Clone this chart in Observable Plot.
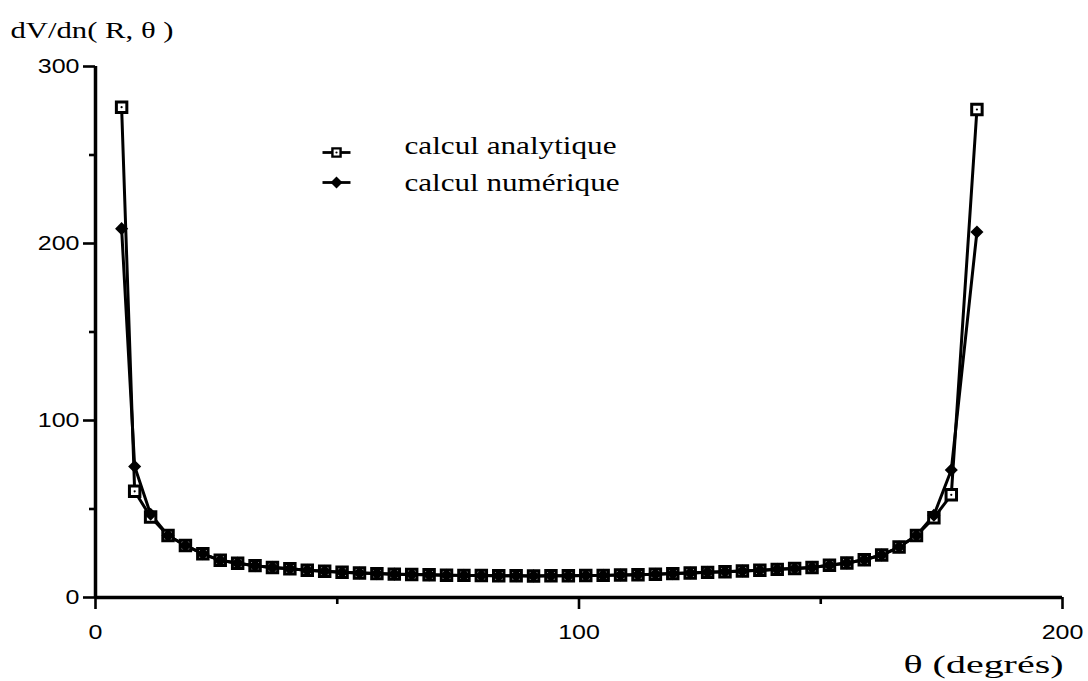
<!DOCTYPE html>
<html>
<head>
<meta charset="utf-8">
<script src="https://cdn.jsdelivr.net/npm/d3@7"></script>
<script src="https://cdn.jsdelivr.net/npm/@observablehq/plot@0.6"></script>
<style>
  html, body { margin: 0; padding: 0; background: #fff; }
  svg g[aria-label="x-axis tick"], svg g[aria-label="y-axis tick"],
  svg g[aria-label="x-axis tick"] *, svg g[aria-label="y-axis tick"] * {
    stroke: #000 !important; stroke-width: 2.6px !important; stroke-opacity: 1 !important;
  }
</style>
</head>
<body>
<div id="chart"></div>
<script>
// ---- data ----
const theta = [5.4, 8.1, 11.4, 15.0, 18.6, 22.2, 25.8, 29.4, 33.0, 36.6,
  40.2, 43.8, 47.4, 51.0, 54.6, 58.2, 61.8, 65.4, 69.0, 72.6,
  76.2, 79.8, 83.4, 87.0, 90.6, 94.2, 97.8, 101.4, 105.0, 108.6,
  112.2, 115.8, 119.4, 123.0, 126.6, 130.2, 133.8, 137.4, 141.0, 144.6,
  148.2, 151.8, 155.4, 159.0, 162.6, 166.2, 169.8, 173.4, 177.0, 182.3];
const analytique = [277, 60, 45.5, 35, 29.4, 24.7, 21, 19.4, 18, 17,
  16.2, 15.4, 14.8, 14.3, 13.8, 13.5, 13.2, 13, 12.8, 12.6,
  12.5, 12.4, 12.3, 12.3, 12.2, 12.3, 12.3, 12.4, 12.5, 12.7,
  12.9, 13.1, 13.5, 13.8, 14.2, 14.6, 15, 15.4, 15.9, 16.4,
  17, 18.2, 19.5, 21.3, 24, 28.5, 35, 45, 58, 275.7];
const numerique = [208.4, 74, 47, 35, 29.4, 24.7, 21, 19.4, 18, 17,
  16.2, 15.4, 14.8, 14.3, 13.8, 13.5, 13.2, 13, 12.8, 12.6,
  12.5, 12.4, 12.3, 12.3, 12.2, 12.3, 12.3, 12.4, 12.5, 12.7,
  12.9, 13.1, 13.5, 13.8, 14.2, 14.6, 15, 15.4, 15.9, 16.4,
  17, 18.2, 19.5, 21.3, 24, 28.5, 35, 46.5, 72, 206.5];
const xTicks = [0, 100, 200];
const xMinorTicks = [50, 150];
const yTicks = [0, 100, 200, 300];
const yMinorTicks = [50, 150, 250];
const yLabel = "dV/dn( R, θ )";
const xLabel = "θ (degrés)";
const legendLabels = ["calcul analytique", "calcul numérique"];

// ---- table built from the arrays ----
const rows = theta.map((t, i) => ({theta: t, analytique: analytique[i], numerique: numerique[i]}));

const serif = "'Liberation Serif', 'Times New Roman', serif";
const legendLine = {draw(ctx) { ctx.moveTo(-14, 0); ctx.lineTo(14, 0); }};

const plot = Plot.plot({
  width: 1088,
  height: 681,
  marginLeft: 95,
  marginRight: 26,
  marginTop: 66,
  marginBottom: 84,
  x: {domain: [0, 200]},
  y: {domain: [0, 300]},
  style: {fontFamily: "'Liberation Sans', Arial, sans-serif", fontSize: "20px", color: "#000", background: "#fff", overflow: "visible"},
  marks: [
    Plot.axisX({ticks: xTicks, tickSize: 12, tickPadding: 15, stroke: "#000", strokeWidth: 3, label: null}),
    Plot.axisX({ticks: xMinorTicks, tickSize: 7, tickFormat: () => "", stroke: "#000", strokeWidth: 3, label: null}),
    Plot.axisY({ticks: yTicks, tickSize: 12, tickPadding: 4, stroke: "#000", strokeWidth: 3, label: null}),
    Plot.axisY({ticks: yMinorTicks, tickSize: 6, tickFormat: () => "", stroke: "#000", strokeWidth: 3, label: null}),
    Plot.ruleX([0], {stroke: "#000", strokeWidth: 3.5}),
    Plot.ruleY([0], {stroke: "#000", strokeWidth: 3.5}),
    Plot.line(rows, {x: "theta", y: "analytique", stroke: "#000", strokeWidth: 3}),
    Plot.line(rows, {x: "theta", y: "numerique", stroke: "#000", strokeWidth: 3}),
    Plot.dot(rows, {x: "theta", y: "analytique", symbol: "square", r: 5.9, fill: "#fff", stroke: "#000", strokeWidth: 3}),
    Plot.dot(rows, {x: "theta", y: "analytique", r: 1.1, fill: "#000"}),
    Plot.dot(rows, {x: "theta", y: "numerique", symbol: "diamond2", r: 5.9, fill: "#000"}),
    // axis titles
    Plot.text([yLabel], {frameAnchor: "top-left", dx: -85, dy: -29, lineAnchor: "bottom", textAnchor: "start", fontFamily: serif, fontSize: 24, fill: "#000"}),
    Plot.text([xLabel], {frameAnchor: "bottom-right", dx: 1, dy: 75, lineAnchor: "bottom", textAnchor: "end", fontFamily: serif, fontSize: 26, fill: "#000"}),
    // legend
    Plot.dot([legendLabels[0]], {frameAnchor: "top-left", dx: 241, dy: 86, symbol: legendLine, stroke: "#000", strokeWidth: 2.8}),
    Plot.dot([legendLabels[0]], {frameAnchor: "top-left", dx: 241, dy: 86, symbol: "square", r: 4.6, fill: "#fff", stroke: "#000", strokeWidth: 2.4}),
    Plot.dot([legendLabels[0]], {frameAnchor: "top-left", dx: 241, dy: 86, r: 1.1, fill: "#000"}),
    Plot.dot([legendLabels[1]], {frameAnchor: "top-left", dx: 241, dy: 116, symbol: legendLine, stroke: "#000", strokeWidth: 2.8}),
    Plot.dot([legendLabels[1]], {frameAnchor: "top-left", dx: 241, dy: 116, symbol: "diamond2", r: 5.4, fill: "#000"}),
    Plot.text([legendLabels[0]], {frameAnchor: "top-left", dx: 309, dy: 79, lineAnchor: "middle", textAnchor: "start", fontFamily: serif, fontSize: 25, fill: "#000"}),
    Plot.text([legendLabels[1]], {frameAnchor: "top-left", dx: 309, dy: 116, lineAnchor: "middle", textAnchor: "start", fontFamily: serif, fontSize: 25, fill: "#000"})
  ]
});

document.getElementById("chart").append(plot);

// horizontal stretch of the scanned-looking texts (matched by their content)
const targetWidths = new Map([[yLabel, 163], [xLabel, 160], [legendLabels[0], 212], [legendLabels[1], 215]]);
d3.select(plot).selectAll("text").each(function() {
  const s = this.textContent;
  if (targetWidths.has(s)) {
    this.setAttribute("textLength", targetWidths.get(s));
    this.setAttribute("lengthAdjust", "spacingAndGlyphs");
  }
});
d3.select(plot).selectAll('g[aria-label="x-axis tick label"] text, g[aria-label="y-axis tick label"] text')
  .each(function() {
    const w = this.getComputedTextLength();
    if (w > 0) {
      this.setAttribute("textLength", w * 1.25);
      this.setAttribute("lengthAdjust", "spacingAndGlyphs");
    }
  });
</script>
</body>
</html>
